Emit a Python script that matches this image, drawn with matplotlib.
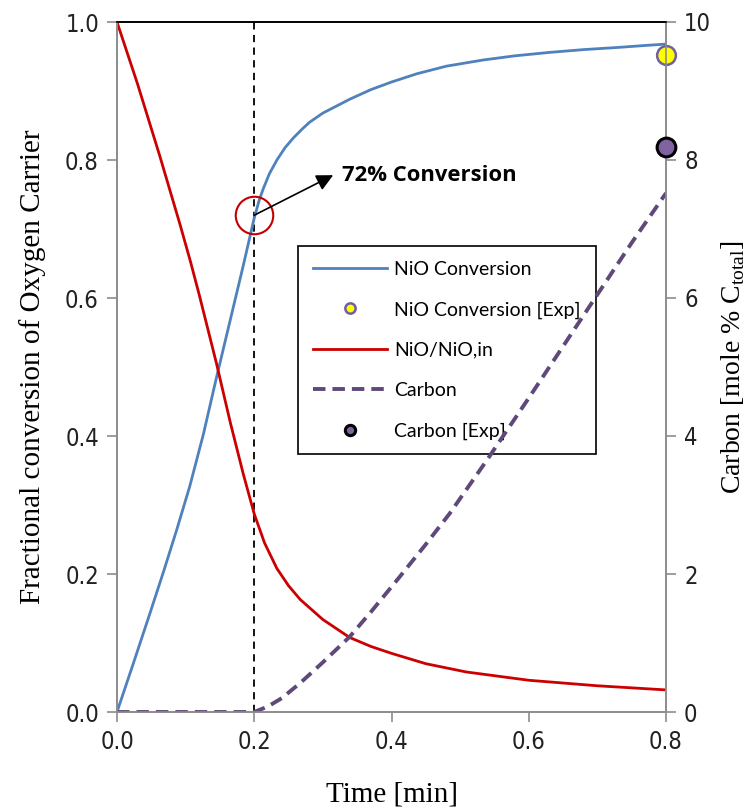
import matplotlib
matplotlib.use("Agg")
import matplotlib.pyplot as plt

# Model results vs. time [min]
time = [0.0, 0.024, 0.048, 0.068, 0.087, 0.106, 0.126, 0.145, 0.165, 0.184, 0.2,
        0.207, 0.213, 0.222, 0.233, 0.245, 0.257, 0.27, 0.281, 0.3, 0.339, 0.37,
        0.4, 0.437, 0.48, 0.534, 0.58, 0.631, 0.68, 0.728, 0.77, 0.8]
nio_conv = [0.0, 0.071, 0.143, 0.204, 0.264, 0.327, 0.403, 0.485, 0.568, 0.647, 0.716,
            0.741, 0.758, 0.780, 0.800, 0.818, 0.832, 0.845, 0.855, 0.868, 0.888, 0.902,
            0.913, 0.925, 0.936, 0.945, 0.951, 0.956, 0.960, 0.963, 0.966, 0.968]

ratio_time = [0.0, 0.03, 0.0626, 0.092, 0.107, 0.12, 0.145, 0.165, 0.184, 0.2, 0.215,
              0.233, 0.25, 0.267, 0.3, 0.339, 0.37, 0.4, 0.45, 0.509, 0.6, 0.7, 0.8]
nio_ratio = [1.0, 0.91, 0.805, 0.706, 0.653, 0.604, 0.505, 0.42, 0.345, 0.287, 0.245,
             0.208, 0.183, 0.163, 0.134, 0.108, 0.095, 0.085, 0.07, 0.058, 0.046, 0.038, 0.032]

carbon_time = [0.0, 0.2, 0.22, 0.24, 0.267, 0.3, 0.339, 0.37, 0.412, 0.45, 0.485,
               0.539, 0.6, 0.65, 0.7, 0.75, 0.8]
carbon = [0.0, 0.0, 0.08, 0.2, 0.42, 0.72, 1.09, 1.45, 1.96, 2.43, 2.88,
          3.65, 4.55, 5.3, 6.05, 6.8, 7.52]

# Experimental points
exp_time = [0.8]
exp_nio_conv = [0.952]
exp_carbon = [8.19]

marked_time = 0.2
marked_conv = 0.72

tick_font = dict(family="DejaVu Sans", stretch="condensed")
serif = "Liberation Serif"
label_font = "Lato"

fig = plt.figure(figsize=(7.49, 8.11), dpi=100)
ax = fig.add_axes([117 / 749, 1 - 712 / 811, 549 / 749, 690 / 811])
ax2 = ax.twinx()

blue = "#4F81BD"
red = "#CC0000"
purple = "#5F497A"

l1, = ax.plot(time, nio_conv, color=blue, lw=2, label="NiO Conversion")
l3, = ax.plot(ratio_time, nio_ratio, color=red, lw=2, label="NiO/NiO,in")
l4, = ax2.plot(carbon_time, carbon, color=purple, lw=2.8, ls=(0, (3.2, 1.8)), label="Carbon")
l2, = ax.plot(exp_time, exp_nio_conv, "o", ms=13.5, mfc="#FFFF00", mec="#7060A0", mew=1.8,
              label="NiO Conversion [Exp]", clip_on=False, zorder=5)
l5, = ax2.plot(exp_time, exp_carbon, "o", ms=13.5, mfc="#8064A2", mec="black", mew=2.2,
               label="Carbon [Exp]", clip_on=False, zorder=5)

ax.axvline(marked_time, color="black", lw=1.3, ls=(0, (4, 3)), zorder=1)

ax.set_xlim(0, 0.8)
ax.set_ylim(0, 1.0)
ax2.set_ylim(0, 10)
ax.set_xticks([0.0, 0.2, 0.4, 0.6, 0.8])
ax.set_xticklabels(["0.0", "0.2", "0.4", "0.6", "0.8"])
ax.set_yticks([0.0, 0.2, 0.4, 0.6, 0.8, 1.0])
ax.set_yticklabels(["0.0", "0.2", "0.4", "0.6", "0.8", "1.0"])
ax2.set_yticks([0, 2, 4, 6, 8, 10])

for a in (ax, ax2):
    for s in a.spines.values():
        s.set_color("#8C8C8C")
        s.set_linewidth(1.2)
    a.spines["top"].set_color("black")
    a.tick_params(colors="#8C8C8C", length=7, width=1.2, labelcolor="#222222",
                  labelsize=17, pad=6)
    for lab in a.get_xticklabels() + a.get_yticklabels():
        lab.set_family(tick_font["family"])
        lab.set_stretch(tick_font["stretch"])

ax.set_xlabel("Time [min]", family=serif, fontsize=21, labelpad=20)
ax.set_ylabel("Fractional conversion of Oxygen Carrier", family=serif, fontsize=21, labelpad=14)
ax2.set_ylabel(r"Carbon [mole % C$_{\mathregular{total}}$]", family=serif, fontsize=20,
               rotation=90, labelpad=6)

# Highlight of the conversion at the marked time
ax.plot([marked_time], [marked_conv], "o", ms=27, mfc="none", mec="#C00000", mew=1.5, zorder=6)
ax.annotate("", xy=(0.315, 0.778), xytext=(marked_time, marked_conv),
            arrowprops=dict(arrowstyle="-|>,head_length=1.0,head_width=0.5", color="black",
                            lw=1.2, shrinkA=0, shrinkB=0), zorder=7)
ax.text(0.328, 0.778, f"{marked_conv:.0%} Conversion", family="Open Sans", fontweight="bold",
        fontsize=15.8, va="center", ha="left")

leg = ax.legend(handles=[l1, l2, l3, l4, l5], loc="upper left",
                bbox_to_anchor=(0.330, 0.675), borderaxespad=0, frameon=True, fancybox=False,
                edgecolor="black", framealpha=1, borderpad=0.75, labelspacing=1.2,
                handlelength=3.8, handletextpad=0.4, prop={"family": label_font, "size": 14},
                markerscale=0.55)
leg.get_frame().set_linewidth(1.2)
leg.set_zorder(10)

fig.savefig("out.png", dpi=100)
